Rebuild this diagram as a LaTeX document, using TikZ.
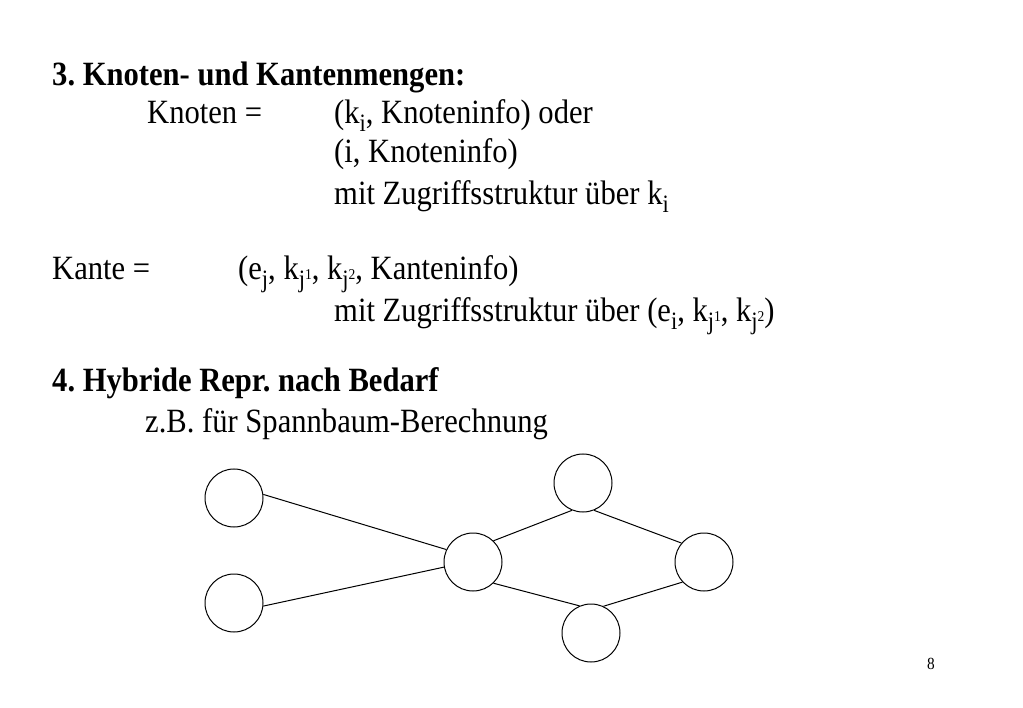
\documentclass[tikz,border=0pt]{standalone}
\usepackage{fontspec}
\setmainfont{Liberation Serif}[FakeStretch=0.9]
\usepackage{tikz}
\frenchspacing
\newcommand{\idx}[1]{\raisebox{-0.22em}{\fontsize{25}{25}\selectfont #1}}
\newcommand{\hoch}[1]{\raisebox{0.3em}{\fontsize{15}{15}\selectfont #1}}

\begin{document}
\begin{tikzpicture}[x=1pt, y=-1pt,
  zeile/.style={anchor=base west, inner sep=0pt, font=\fontsize{34}{40}\selectfont},
  knoten/.style={draw, circle, minimum size=58pt, inner sep=0pt, line width=1pt},
  kante/.style={line width=1pt}]
\useasboundingbox (0, 0) rectangle (1023, 708);

\node [zeile, font=\fontsize{34}{40}\selectfont\bfseries] (h3) at (52, 86) {3. Knoten- und Kantenmengen:};
\node [zeile] (kn) at (147, 124) {Knoten =};
\node [zeile] (kn1) at (334, 124) {(k\idx{i}, Knoteninfo) oder};
\node [zeile] (kn2) at (334, 163) {(i, Knoteninfo)};
\node [zeile] (kn3) at (334, 205) {mit Zugriffsstruktur über k\idx{i}};

\node [zeile] (ka) at (52, 280) {Kante =};
\node [zeile] (ka1) at (238, 280) {(e\idx{j}, k\idx{j\hoch{1}}, k\idx{j\hoch{2}}, Kanteninfo)};
\node [zeile] (ka2) at (334, 322) {mit Zugriffsstruktur über (e\idx{i}, k\idx{j\hoch{1}}, k\idx{j\hoch{2}})};

\node [zeile, font=\fontsize{34}{40}\selectfont\bfseries] (h4) at (52, 392) {4. Hybride Repr. nach Bedarf};
\node [zeile] (zb) at (145, 432) {z.B. für Spannbaum-Berechnung};

\node [zeile, font=\fontsize{17}{20}\selectfont] (nr) at (927, 669) {8};

\node [knoten] (a) at (234, 498) {};
\node [knoten] (b) at (234, 603) {};
\node [knoten] (c) at (473, 562) {};
\node [knoten] (d) at (583, 483) {};
\node [knoten] (e) at (704, 562) {};
\node [knoten] (f) at (591, 633) {};

\draw [kante] (a.7) -- (c.155);
\draw [kante] (b.-6) -- (c.190);
\draw [kante] (c.46) -- (d.248);
\draw [kante] (d.-68) -- (e.140);
\draw [kante] (c.-46) -- (f.113);
\draw [kante] (f.65) -- (e.223);
\end{tikzpicture}
\end{document}
